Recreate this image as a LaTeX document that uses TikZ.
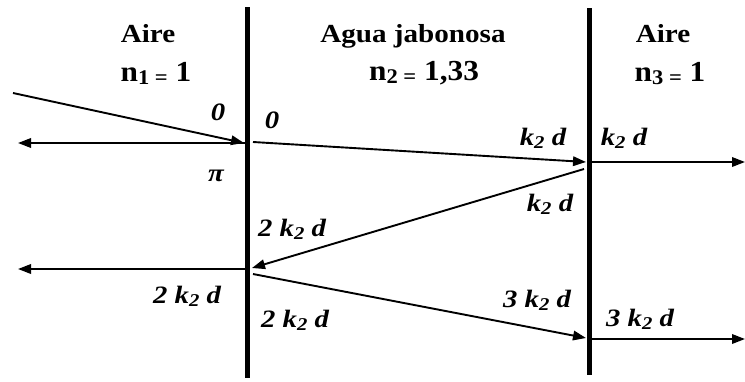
\documentclass[tikz,border=0pt]{standalone}
\usepackage{fontspec}
\setmainfont{Liberation Serif}
\usetikzlibrary{arrows.meta}
\newcommand\lowsub[1]{\raisebox{-0.28ex}{\scalebox{0.72}{#1}}}
\newcommand\hx[1]{\scalebox{1.12}[1]{#1}}
\newcommand\nx[1]{\scalebox{1.08}[1]{#1}}
\newcommand\lx[1]{\scalebox{1.15}[1]{#1}}
\tikzset{
  wall/.style={line width=5pt},
  ray/.style={line width=1.9pt,-{Triangle[length=13pt,width=9.5pt]}},
  head/.style={font=\fontsize{26}{30}\selectfont\bfseries,inner sep=0pt,anchor=base},
  headn/.style={font=\fontsize{29}{33}\selectfont\bfseries,inner sep=0pt,anchor=base},
  lab/.style={font=\fontsize{25}{29}\selectfont\bfseries\itshape,inner sep=0pt,anchor=base}
}
\begin{document}
\begin{tikzpicture}[x=1pt,y=-1pt]
\useasboundingbox (0,0) rectangle (745,381);
% walls
\coordinate (w1t) at (247,7);   \coordinate (w1b) at (247,378);
\coordinate (w2t) at (589,8);   \coordinate (w2b) at (589,375);
\draw[wall] (w1t) -- (w1b);
\draw[wall] (w2t) -- (w2b);
% ray points
\coordinate (inS) at (13,93);
\coordinate (inE) at (244,143);
\coordinate (r1S) at (246,143);
\coordinate (r1E) at (18,143);
\coordinate (t1S) at (253,142);
\coordinate (t1E) at (586,162);
\coordinate (r2S) at (584,169);
\coordinate (r2E) at (252,268);
\coordinate (o1S) at (591,162);
\coordinate (o1E) at (745,162);
\coordinate (l2S) at (246,269);
\coordinate (l2E) at (18,269);
\coordinate (t2S) at (253,274);
\coordinate (t2E) at (586,338);
\coordinate (o2S) at (591,339);
\coordinate (o2E) at (745,339);
\draw[ray] (inS) -- (inE);
\draw[ray] (r1S) -- (r1E);
\draw[ray] (t1S) -- (t1E);
\draw[ray] (r2S) -- (r2E);
\draw[ray] (o1S) -- (o1E);
\draw[ray] (l2S) -- (l2E);
\draw[ray] (t2S) -- (t2E);
\draw[ray] (o2S) -- (o2E);
% headers
\node[head] (h1) at (148,42) {\hx{Aire}};
\node[headn] (h1n) at (156,81) {\nx{n\lowsub{1 =} 1}};
\node[head] (h2) at (413,42) {\hx{Agua jabonosa}};
\node[headn] (h2n) at (424,80) {\nx{n\lowsub{2 =} 1,33}};
\node[head] (h3) at (663,42) {\hx{Aire}};
\node[headn] (h3n) at (670,81) {\nx{n\lowsub{3 =} 1}};
% labels
\node[lab] (a0) at (218,120) {\lx{0}};
\node[lab] (b0) at (272,128) {\lx{0}};
\node[lab] (pi) at (216,181) {\lx{π}};
\node[lab] (c1) at (543,145) {\lx{k\lowsub{2} d}};
\node[lab] (c2) at (624,145) {\lx{k\lowsub{2} d}};
\node[lab] (c3) at (550,211) {\lx{k\lowsub{2} d}};
\node[lab] (d1) at (292,236) {\lx{2 k\lowsub{2} d}};
\node[lab] (d2) at (187,303) {\lx{2 k\lowsub{2} d}};
\node[lab] (d3) at (295,327) {\lx{2 k\lowsub{2} d}};
\node[lab] (e1) at (537,307) {\lx{3 k\lowsub{2} d}};
\node[lab] (e2) at (640,326) {\lx{3 k\lowsub{2} d}};
\end{tikzpicture}
\end{document}
